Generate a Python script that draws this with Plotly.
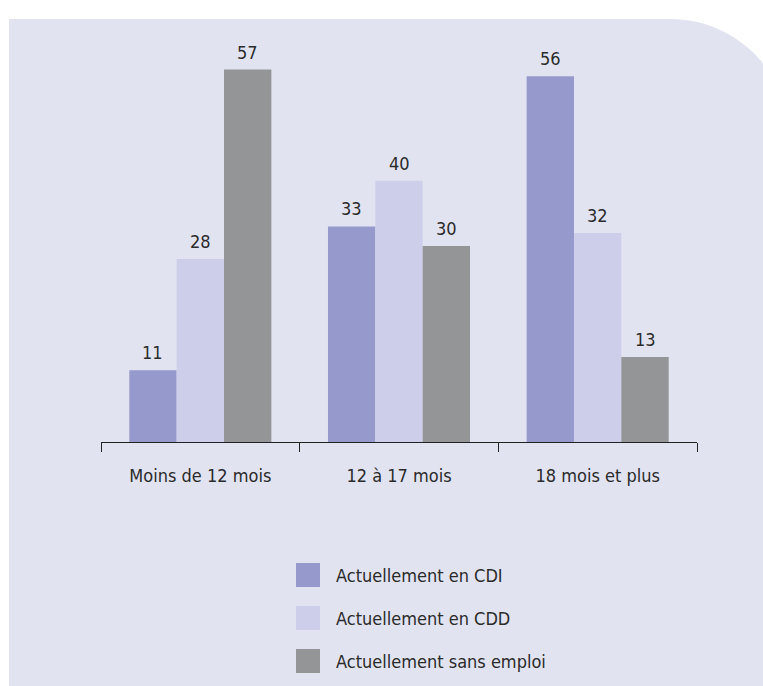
import plotly.graph_objects as go

categories = ["Moins de 12 mois", "12 à 17 mois", "18 mois et plus"]
series_names = ["Actuellement en CDI", "Actuellement en CDD", "Actuellement sans emploi"]
cdi = [11, 33, 56]
cdd = [28, 40, 32]
sans_emploi = [57, 30, 13]
colors = ["#9699CB", "#CDCFEA", "#949597"]

series_values = [cdi, cdd, sans_emploi]

# body margin is removed via post_script, so figure pixels == page pixels
OFF = 0
W, H = 763 - OFF, 686 - OFF
ML = 101 - OFF
PR = 697 - OFF
PT = 50 - OFF
PB = 442 - OFF
MR = W - PR
MT = PT
MB = H - PB
PW = PR - ML
PH = PB - PT
YMAX = 60
FONT = "DejaVu Sans Condensed, Roboto Condensed, Roboto, sans-serif"
FS = 18
TXT = "#2b2b2b"

def px_x(px):
    return (px - OFF - ML) / PW

def px_y(py):
    return (PB - (py - OFF)) / PH

fig = go.Figure()
for name, vals, col in zip(series_names, series_values, colors):
    fig.add_trace(go.Bar(
        x=categories, y=vals, name=name, marker=dict(color=col, line=dict(width=0)),
        showlegend=False, hoverinfo="skip",
    ))

bargap = 0.285
bar_w = PW / len(categories) * (1 - bargap) / len(series_values)
annotations = []
for i, vals in enumerate(series_values):
    off = (i - (len(series_values) - 1) / 2) * bar_w
    for c, v in zip(categories, vals):
        annotations.append(dict(
            x=c, y=v, xref="x", yref="y", text=str(v), showarrow=False,
            xanchor="center", yanchor="bottom", xshift=off, yshift=5,
            font=dict(size=FS, color=TXT, family=FONT),
        ))

# custom legend (large squares)
leg_x = 296
leg_y0 = 575
leg_dy = 43
shapes = []
# background panel with rounded top-right corner
r = 120
k = 0.5523
x0, y0, x1, y1 = 9, 19, 800, 710
cx = 670
path = (f"M {px_x(x0)},{px_y(y0)} L {px_x(cx)},{px_y(y0)} "
        f"C {px_x(cx + k * r)},{px_y(y0)} {px_x(cx + r)},{px_y(y0 + r - k * r)} {px_x(cx + r)},{px_y(y0 + r)} "
        f"L {px_x(x1)},{px_y(y0 + r)} L {px_x(x1)},{px_y(y1)} L {px_x(x0)},{px_y(y1)} Z")
shapes.append(dict(type="path", path=path, xref="paper", yref="paper",
                   fillcolor="#E1E3F1", line=dict(width=0), layer="below"))
for i, (name, col) in enumerate(zip(series_names, colors)):
    yc = leg_y0 + i * leg_dy
    shapes.append(dict(type="rect", xref="paper", yref="paper",
                       x0=px_x(leg_x), x1=px_x(leg_x + 24), y0=px_y(yc - 12), y1=px_y(yc + 12),
                       fillcolor=col, line=dict(width=0)))
    annotations.append(dict(x=px_x(334), y=px_y(yc), xref="paper", yref="paper", text=name,
                            showarrow=False, xanchor="left", yanchor="middle",
                            font=dict(size=FS, color=TXT, family=FONT)))

fig.update_layout(
    width=W, height=H,
    margin=dict(l=ML, r=MR, t=MT, b=MB, pad=0),
    paper_bgcolor="white", plot_bgcolor="rgba(0,0,0,0)",
    barmode="group", bargap=bargap, bargroupgap=0,
    font=dict(family=FONT, size=FS, color=TXT),
    shapes=shapes, annotations=annotations,
    showlegend=False,
    xaxis=dict(showline=True, linecolor="#222", linewidth=1, ticks="outside", ticklen=9,
               tickcolor="#222", tickson="boundaries", showgrid=False,
               tickfont=dict(size=FS, color=TXT, family=FONT), ticklabelstandoff=17,
               fixedrange=True),
    yaxis=dict(range=[0, YMAX], visible=False, showgrid=False, zeroline=False, fixedrange=True),
)

fig.write_html("out.html", config={"displayModeBar": False},
               post_script="document.body.style.margin='0';document.body.style.padding='0';document.body.style.overflow='hidden';")
